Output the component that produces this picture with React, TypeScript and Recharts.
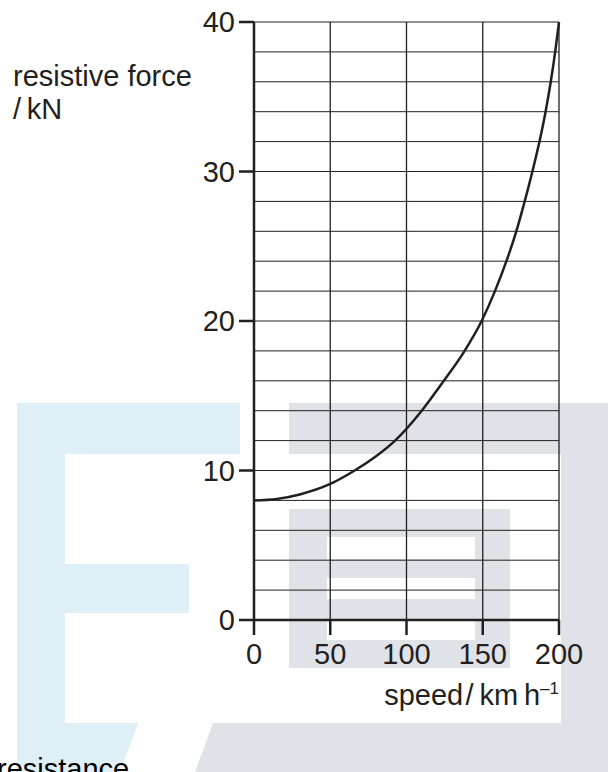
import { LineChart, Line, XAxis, YAxis, ReferenceLine } from "recharts";

const speed = [0, 15, 30, 50, 66, 80, 92.5, 110, 124.5, 137.5, 149.5, 158, 165.5, 172, 177.5, 182.8, 187.2, 191.2, 194.6, 197.5, 200];
const force = [8.0, 8.1, 8.4, 9.1, 10.0, 10.95, 12.0, 14.0, 16.0, 17.9, 20.05, 22.0, 24.0, 26.0, 28.0, 30.1, 32.0, 34.0, 36.0, 38.0, 40.0];

const speedTicks = [0, 50, 100, 150, 200];
const forceTicks = [0, 10, 20, 30, 40];
const speedGrid = [50, 100, 150, 200];
const forceGrid = [2, 4, 6, 8, 10, 12, 14, 16, 18, 20, 22, 24, 26, 28, 30, 32, 34, 36, 38, 40];

const data = speed.map((s, i) => ({ speed: s, force: force[i] }));

const ink = "#231f20";
const font = "'Liberation Sans', Arial, sans-serif";
const blue = "#dfeff7";
const grey = "#dfe2e6";

const Watermark = () => (
  <svg width={608} height={772} style={{ position: "absolute", left: 0, top: 0 }}>
    {/* blue F */}
    <rect x={17} y={403} width={223} height={51} fill={blue} />
    <rect x={17} y={403} width={48} height={369} fill={blue} />
    <rect x={65} y={564} width={124} height={49} fill={blue} />
    <polygon points="65,723 138,723 120,772 65,772" fill={blue} />
    {/* grey E */}
    <rect x={289} y={403} width={319} height={51} fill={grey} />
    <rect x={561} y={403} width={47} height={369} fill={grey} />
    <rect x={289} y={509} width={221} height={159} fill={grey} />
    <rect x={327} y={537} width={148} height={22} fill="#ffffff" />
    <rect x={327} y={578} width={148} height={21} fill="#ffffff" />
    <rect x={327} y={620} width={148} height={20} fill="#ffffff" />
    <polygon points="213,723 608,723 608,772 195,772" fill={grey} />
  </svg>
);

export default function App() {
  return (
    <div
      style={{
        position: "absolute",
        left: 0,
        top: 0,
        width: 608,
        height: 772,
        overflow: "hidden",
        background: "#fff",
        fontFamily: font,
        color: ink,
      }}
    >
      <Watermark />
      <div style={{ position: "absolute", left: 0, top: 0 }}>
        <LineChart
          width={608}
          height={772}
          data={data}
          margin={{ top: 22, right: 49, left: 0, bottom: 112 }}
        >
          {forceGrid.map((v) => (
            <ReferenceLine key={"h" + v} y={v} stroke={ink} strokeWidth={1} />
          ))}
          {speedGrid.map((v) => (
            <ReferenceLine key={"v" + v} x={v} stroke={ink} strokeWidth={1.3} />
          ))}
          <XAxis
            dataKey="speed"
            type="number"
            domain={[0, 200]}
            ticks={speedTicks}
            interval={0}
            height={40}
            tickSize={15}
            tickMargin={8}
            axisLine={{ stroke: ink, strokeWidth: 2.5 }}
            tickLine={{ stroke: ink, strokeWidth: 2.5 }}
            tick={{ fill: ink, fontSize: 29, fontFamily: font }}
          />
          <YAxis
            type="number"
            domain={[0, 40]}
            ticks={forceTicks}
            interval={0}
            width={254}
            tickSize={15}
            tickMargin={4}
            axisLine={{ stroke: ink, strokeWidth: 2.5 }}
            tickLine={{ stroke: ink, strokeWidth: 2.5 }}
            tick={{ fill: ink, fontSize: 29, fontFamily: font }}
          />
          <Line
            type="monotone"
            dataKey="force"
            stroke={ink}
            strokeWidth={2.5}
            dot={false}
            isAnimationActive={false}
          />
        </LineChart>
      </div>
      <div
        style={{
          position: "absolute",
          left: 13,
          top: 60,
          fontSize: 29,
          lineHeight: "33px",
          whiteSpace: "nowrap",
        }}
      >
        resistive force
        <br />
        /&#8201;kN
      </div>
      <div
        style={{
          position: "absolute",
          right: 49,
          top: 679,
          fontSize: 29,
          lineHeight: "33px",
          whiteSpace: "nowrap",
        }}
      >
        speed&#8202;/&#8201;km&#8201;h
        <sup style={{ fontSize: 17, verticalAlign: "11px", lineHeight: 0 }}>–1</sup>
      </div>
      <div
        style={{
          position: "absolute",
          left: -3,
          top: 755,
          fontSize: 29,
          lineHeight: "29px",
          whiteSpace: "nowrap",
          color: "#000",
        }}
      >
        resistance
      </div>
    </div>
  );
}
